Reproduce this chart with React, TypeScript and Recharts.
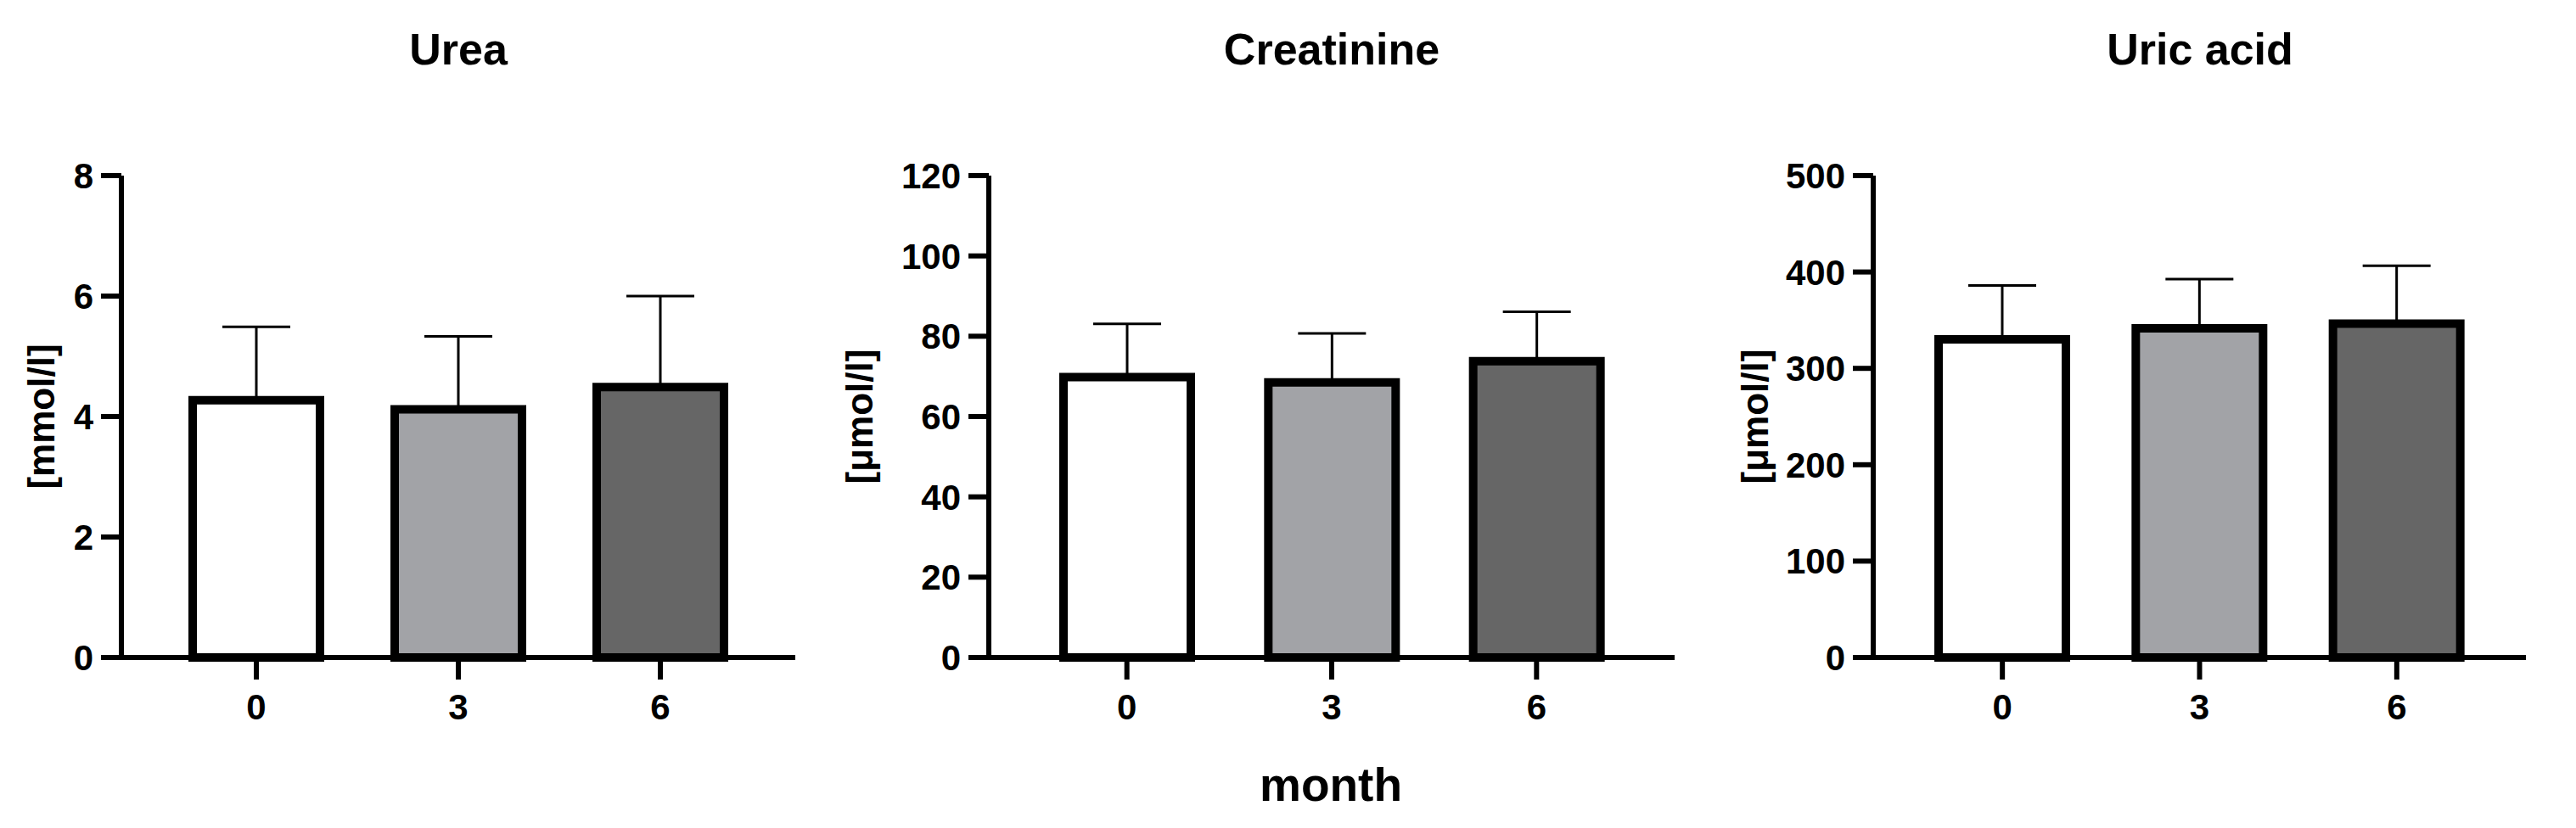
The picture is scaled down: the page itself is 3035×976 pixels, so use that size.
import React from 'react';
import { BarChart, Bar, XAxis, YAxis, Cell, ErrorBar } from 'recharts';

const FONT = '"Liberation Sans", Arial, sans-serif';

// months on the x axis
const categories = ['0', '3', '6'];
const barFills = ['#ffffff', '#a2a3a7', '#666666'];

// Urea [mmol/l]
const ureaMean = [4.27, 4.12, 4.49];
const ureaSd = [1.22, 1.21, 1.51];
const ureaTicks = [0, 2, 4, 6, 8];

// Creatinine [µmol/l]
const creatMean = [69.8, 68.5, 73.8];
const creatSd = [13.3, 12.2, 12.3];
const creatTicks = [0, 20, 40, 60, 80, 100, 120];

// Uric acid [µmol/l]
const uricMean = [330, 341.5, 346.5];
const uricSd = [56, 51, 60];
const uricTicks = [0, 100, 200, 300, 400, 500];

const tickStyle = { fill: '#000', fontSize: 42, fontWeight: 700, fontFamily: FONT };
const axisStroke = { stroke: '#000', strokeWidth: 6 };

interface PanelProps {
  left: number;
  width: number;
  axisWidth: number;
  pad: number;
  means: number[];
  sds: number[];
  ticks: number[];
}

function Panel({ left, width, axisWidth, pad, means, sds, ticks }: PanelProps) {
  // only the upper error is drawn, like the original figure
  const data = categories.map((c, i) => ({
    month: c,
    mean: means[i],
    err: [0, sds[i]],
  }));

  return (
    <div style={{ position: 'absolute', left, top: 0 }}>
      <BarChart
        width={width}
        height={976}
        data={data}
        margin={{ top: 207, right: 10, bottom: 101, left: 0 }}
      >
        <XAxis
          dataKey="month"
          height={100}
          padding={{ left: pad, right: pad }}
          axisLine={axisStroke}
          tickLine={axisStroke}
          tickSize={26}
          tickMargin={17}
          tick={tickStyle}
          interval={0}
        />
        <YAxis
          width={axisWidth}
          domain={[0, ticks[ticks.length - 1]]}
          ticks={ticks}
          interval={0}
          axisLine={axisStroke}
          tickLine={axisStroke}
          tickSize={24}
          tickMargin={9}
          tick={tickStyle}
        />
        <Bar dataKey="mean" barSize={150} stroke="#000" strokeWidth={10} isAnimationActive={false}>
          {data.map((d, i) => (
            <Cell key={d.month} fill={barFills[i]} />
          ))}
          <ErrorBar
            dataKey="err"
            direction="y"
            width={40}
            stroke="#000"
            strokeWidth={3}
            isAnimationActive={false}
          />
        </Bar>
      </BarChart>
    </div>
  );
}

export default function App() {
  const textProps = { fontFamily: FONT, fontWeight: 700, fill: '#000', textAnchor: 'middle' as const };
  return (
    <div style={{ position: 'absolute', left: 0, top: 0, width: 3035, height: 976, background: '#fff' }}>
      <Panel left={0} width={947} axisWidth={143} pad={40} means={ureaMean} sds={ureaSd} ticks={ureaTicks} />
      <Panel left={1000} width={983} axisWidth={165} pad={42} means={creatMean} sds={creatSd} ticks={creatTicks} />
      <Panel left={2040} width={946} axisWidth={167} pad={36} means={uricMean} sds={uricSd} ticks={uricTicks} />

      <svg width={3035} height={976} style={{ position: 'absolute', left: 0, top: 0, pointerEvents: 'none' }}>
        <text x={540} y={58} fontSize={52} dominantBaseline="central" {...textProps}>Urea</text>
        <text x={1569} y={58} fontSize={52} dominantBaseline="central" {...textProps}>Creatinine</text>
        <text x={2592} y={58} fontSize={52} dominantBaseline="central" {...textProps}>Uric acid</text>

        <text x={48} y={491} fontSize={44} dominantBaseline="central" transform="rotate(-90 48 491)" {...textProps}>[mmol/l]</text>
        <text x={1012} y={491} fontSize={44} dominantBaseline="central" transform="rotate(-90 1012 491)" {...textProps}>[μmol/l]</text>
        <text x={2067} y={491} fontSize={44} dominantBaseline="central" transform="rotate(-90 2067 491)" {...textProps}>[μmol/l]</text>

        <text x={1568} y={925} fontSize={55} dominantBaseline="central" {...textProps}>month</text>
      </svg>
    </div>
  );
}
